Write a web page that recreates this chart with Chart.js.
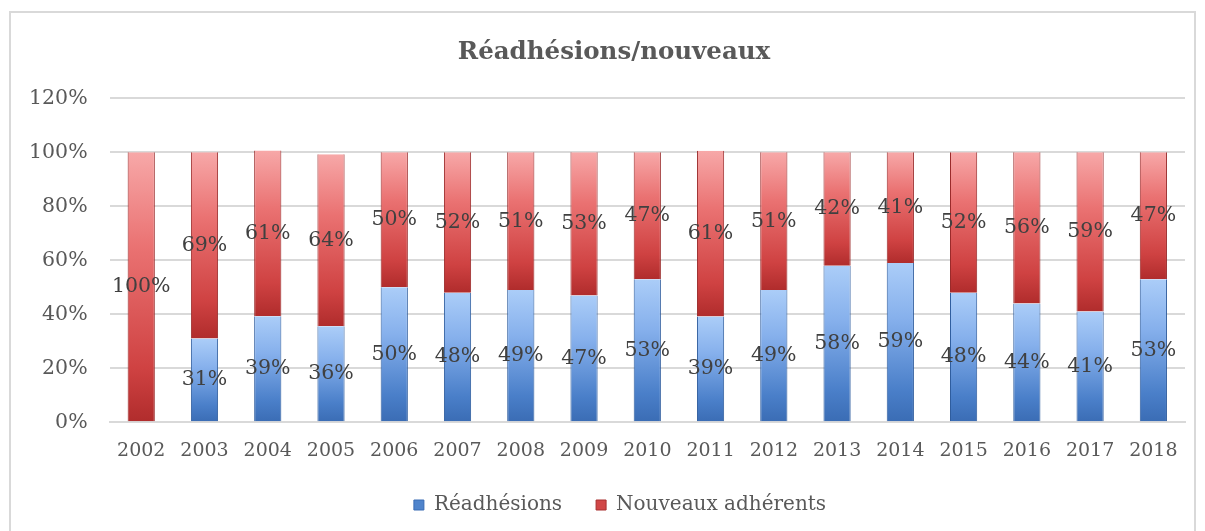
<!DOCTYPE html>
<html><head><meta charset="utf-8">
<script src="https://cdn.jsdelivr.net/npm/chart.js@4/dist/chart.umd.min.js"></script>
<style>
html,body{margin:0;padding:0;background:#fff;}
#wrap{position:absolute;left:0;top:0;width:1205px;height:531px;}
#frame{position:absolute;left:9px;top:11px;width:1187px;height:540px;border:2px solid #d9d9d9;box-sizing:border-box;}
</style></head>
<body>
<div id="frame"></div>
<div id="wrap"><canvas id="c"></canvas></div>
<script>
const categories = ['2002','2003','2004','2005','2006','2007','2008','2009','2010','2011','2012','2013','2014','2015','2016','2017','2018'];
const readhesions = [0,31,39.3,35.6,50,48,49,47,53,39.2,49,58,59,48,44,41,53];
const nouveaux = [100,69,61.4,63.7,50,52,51,53,47,61.4,51,42,41,52,56,59,47];
const yTicks = [0,20,40,60,80,100,120];
const seriesNames = ['Réadhésions','Nouveaux adhérents'];

const GREY = '#595959';
const blueStops = ['#abcdf8','#86b0ec','#4a7fc9','#3a6cb4'];
const redStops = ['#f7a8a8','#ea7272','#cf4242','#b02c2c'];

function segGrad(context, stops, isTop) {
  const chart = context.chart;
  const area = chart.chartArea;
  const i = context.dataIndex;
  if (!area || i === undefined) return stops[2];
  const y = chart.scales.y;
  const base = isTop ? readhesions[i] : 0;
  const top = isTop ? readhesions[i] + nouveaux[i] : readhesions[i];
  const p0 = y.getPixelForValue(base), p1 = y.getPixelForValue(top);
  if (!isFinite(p0) || !isFinite(p1) || Math.abs(p0 - p1) < 1) return stops[2];
  const g = chart.ctx.createLinearGradient(0, p1, 0, p0);
  g.addColorStop(0, stops[0]);
  g.addColorStop(0.35, stops[1]);
  g.addColorStop(0.8, stops[2]);
  g.addColorStop(1, stops[3]);
  return g;
}

const labelPlugin = {
  id: 'segLabels',
  afterDatasetsDraw(chart) {
    const c = chart.ctx;
    c.save();
    c.font = '20.5px "DejaVu Serif"';
    c.fillStyle = '#404040';
    c.textAlign = 'center';
    c.textBaseline = 'middle';
    chart.data.datasets.forEach((ds, di) => {
      const meta = chart.getDatasetMeta(di);
      meta.data.forEach((el, i) => {
        const v = ds.data[i];
        if (!v) return;
        const p = el.getProps(['x','y','base'], true);
        c.fillText(Math.round(v) + '%', p.x, (p.y + p.base) / 2);
      });
    });
    c.restore();
  }
};

const shiftPlugin = {
  id: 'shiftBoxes',
  afterLayout(chart) {
    if (chart.legend) { chart.legend.left += 24; chart.legend.right += 24; }
    if (chart.titleBlock) { chart.titleBlock.left += 18; chart.titleBlock.right += 18; }
  }
};

new Chart(document.getElementById('c'), {
  type: 'bar',
  data: {
    labels: categories,
    datasets: [
      { label: seriesNames[0], data: readhesions,
        backgroundColor: ctx => segGrad(ctx, blueStops, false),
        borderColor: '#2f5d9e', borderWidth: {left:1,right:1,top:0,bottom:0}, borderSkipped: false },
      { label: seriesNames[1], data: nouveaux,
        backgroundColor: ctx => segGrad(ctx, redStops, true),
        borderColor: '#9a2a2a', borderWidth: {left:1,right:1,top:0,bottom:0}, borderSkipped: false }
    ]
  },
  options: {
    responsive: true,
    maintainAspectRatio: false,
    animation: false,
    devicePixelRatio: 1,
    layout: { padding: { top: 38, left: 7, right: 20, bottom: 6 } },
    datasets: { bar: { barPercentage: 0.43, categoryPercentage: 1 } },
    scales: {
      x: {
        stacked: true,
        grid: { display: false, drawTicks: false },
        border: { display: true, color: '#d9d9d9', width: 2 },
        ticks: { color: GREY, font: { family: 'DejaVu Serif', size: 19 }, padding: 17 },
        afterFit: axis => { axis.height -= 18; }
      },
      y: {
        stacked: true,
        min: 0, max: 120,
        afterBuildTicks: axis => { axis.ticks = yTicks.map(v => ({ value: v })); },
        grid: { color: '#d9d9d9', lineWidth: 2, drawTicks: false },
        border: { display: false },
        ticks: { color: GREY, font: { family: 'DejaVu Serif', size: 20.5 }, padding: 22,
                 callback: v => v + '%' }
      }
    },
    plugins: {
      title: { display: true, text: 'Réadhésions/nouveaux', color: GREY,
               font: { family: 'DejaVu Serif', size: 24.5, weight: 'bold' }, padding: { top: 0, bottom: 31 } },
      legend: { position: 'bottom',
                labels: { color: GREY, font: { family: 'DejaVu Serif', size: 20 }, boxWidth: 10, boxHeight: 10,
                          padding: 34,
                          generateLabels: chart => chart.data.datasets.map((ds, i) => ({
                            text: ds.label, fillStyle: i === 0 ? '#4f84cc' : '#d14747',
                            strokeStyle: i === 0 ? '#3a6cb4' : '#a83030', lineWidth: 1,
                            datasetIndex: i, hidden: false, fontColor: GREY })) } },
      tooltip: { enabled: false }
    }
  },
  plugins: [labelPlugin, shiftPlugin]
});
</script>
</body></html>
